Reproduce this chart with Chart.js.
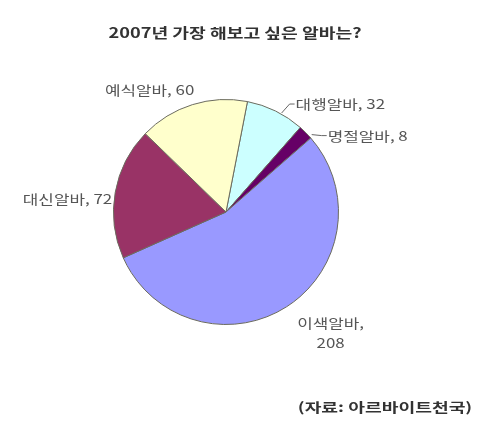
<!DOCTYPE html>
<html>
<head>
<meta charset="utf-8">
<script src="https://cdn.jsdelivr.net/npm/chart.js@4"></script>
<style>
  html, body { margin: 0; padding: 0; background: #fff; }
  #wrap { width: 480px; height: 429px; position: relative; }
</style>
</head>
<body>
<div id="wrap"><canvas id="pieChart" width="480" height="429"></canvas></div>
<script>
// 데이터 (시계 방향, 위쪽부터)
const categories = ["대행알바", "명절알바", "이색알바", "대신알바", "예식알바"];
const votes = [32, 8, 208, 72, 60];
const sliceColors = ["#CCFFFF", "#660066", "#9999FF", "#993366", "#FFFFCC"];
const chartTitle = "2007년 가장 해보고 싶은 알바는?";
const sourceText = "(자료: 아르바이트천국)";

const FONT = "'Noto Sans CJK KR', 'Noto Sans', sans-serif";

// 가로로 늘린 글자 그리기
function wideText(ctx, text, x, y, align, font, color, sx) {
  ctx.save();
  ctx.font = font;
  ctx.fillStyle = color;
  ctx.textBaseline = "middle";
  const w = ctx.measureText(text).width * sx;
  let left = x;
  if (align === "right") left = x - w;
  if (align === "center") left = x - w / 2;
  ctx.translate(left, y);
  ctx.scale(sx, 1);
  ctx.textAlign = "left";
  ctx.fillText(text, 0, 0);
  ctx.restore();
}

// 라벨 위치 (조각 가장자리 중간점 기준)
const labelLayout = [
  { dx: 20, dy: -7, align: "left", leader: true },
  { dx: 22, dy: 3, align: "left", leader: true },
  { dx: 44, dy: 16, align: "center", split: true },
  { dx: -3, dy: 7, align: "right" },
  { dx: 2, dy: -15, align: "right" }
];

const labelPlugin = {
  id: "pieLabels",
  afterDraw(chart) {
    const ctx = chart.ctx;
    const meta = chart.getDatasetMeta(0);
    const labelFont = "13px " + FONT;
    meta.data.forEach((arc, i) => {
      const mid = (arc.startAngle + arc.endAngle) / 2;
      const px = arc.x + Math.cos(mid) * arc.outerRadius;
      const py = arc.y + Math.sin(mid) * arc.outerRadius;
      const lay = labelLayout[i];
      const tx = px + lay.dx;
      const ty = py + lay.dy;
      if (lay.leader) {
        ctx.save();
        ctx.strokeStyle = "#666";
        ctx.lineWidth = 1;
        ctx.beginPath();
        ctx.moveTo(px + 6, py + 2);
        ctx.lineTo(tx - 6, ty);
        ctx.lineTo(tx - 1, ty);
        ctx.stroke();
        ctx.restore();
      }
      if (lay.split) {
        wideText(ctx, categories[i] + ",", tx, ty, "center", labelFont, "#555", 1.3);
        wideText(ctx, String(votes[i]), tx, ty + 20, "center", labelFont, "#555", 1.3);
      } else {
        wideText(ctx, categories[i] + ", " + votes[i], tx, ty, lay.align, labelFont, "#555", 1.3);
      }
    });
    wideText(ctx, chartTitle, 235, 33, "center", "bold 14px " + FONT, "#333", 1.3);
    wideText(ctx, sourceText, 385, 407, "center", "bold 13px " + FONT, "#333", 1.4);
  }
};

const ctx = document.getElementById("pieChart").getContext("2d");
new Chart(ctx, {
  type: "pie",
  data: {
    labels: categories,
    datasets: [{
      data: votes,
      backgroundColor: sliceColors,
      borderColor: "#6b6b5e",
      borderWidth: 1
    }]
  },
  options: {
    responsive: false,
    animation: false,
    rotation: 11,
    layout: { padding: { left: 113, right: 141, top: 99, bottom: 104 } },
    plugins: {
      legend: { display: false },
      title: { display: false },
      tooltip: { enabled: false }
    }
  },
  plugins: [labelPlugin]
});
</script>
</body>
</html>
